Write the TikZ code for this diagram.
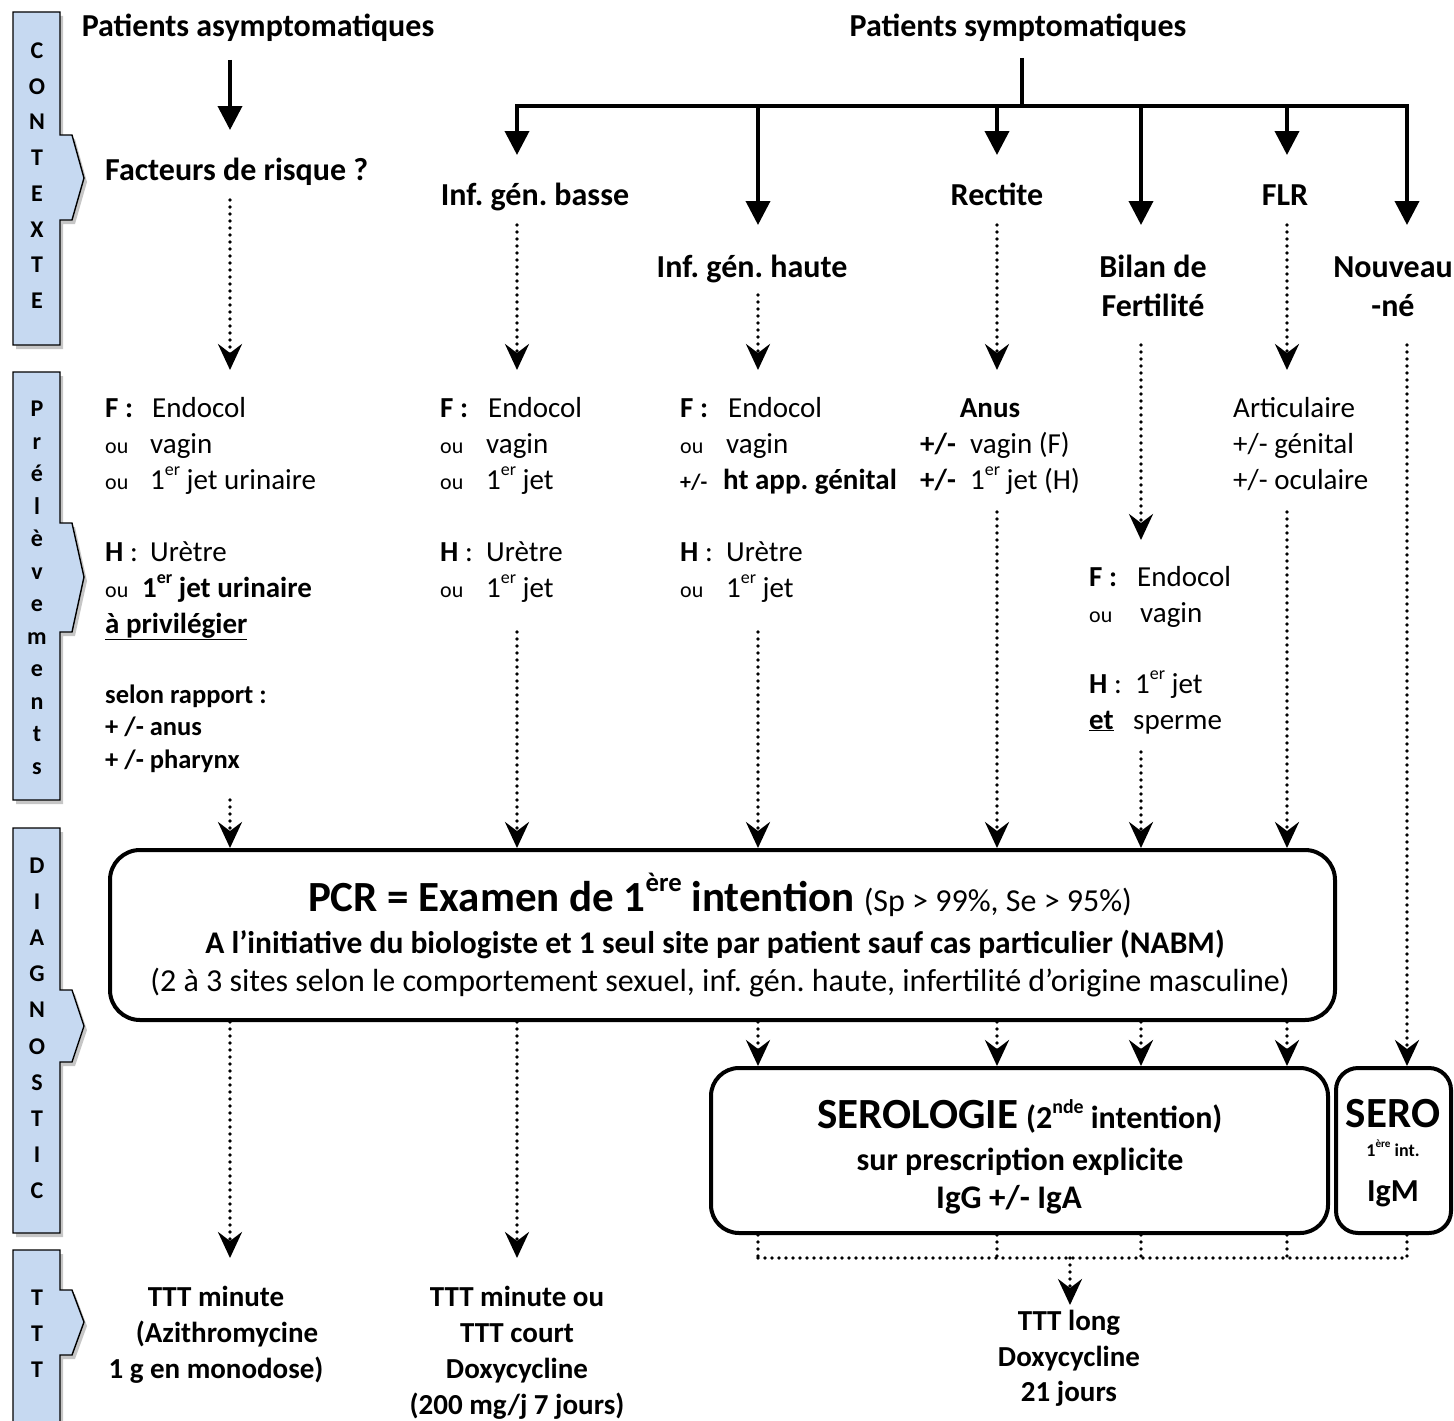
\documentclass[tikz,border=0pt]{standalone}
\usepackage{graphicx}
\usepackage{fontspec}
\setmainfont{Carlito}
\usetikzlibrary{arrows.meta,shadows}
\frenchspacing
\newcommand\fsz[1]{\fontsize{#1pt}{1.2\dimexpr#1pt\relax}\selectfont}
\newcommand\supx[1]{\raisebox{0.45em}{\scalebox{0.62}{#1}}}
\definecolor{tabblue}{HTML}{C6D9F1}
\tikzset{
  solidarr/.style={line width=3.8pt, -{Triangle[width=24pt,length=24pt]}},
  solidln/.style={line width=3.8pt},
  dotarr/.style={line width=3.6pt, dash pattern=on 0pt off 7pt, line cap=round, -{Stealth[width=24pt,length=26pt,inset=9pt]}},
  dotln/.style={line width=3.6pt, dash pattern=on 0pt off 7pt, line cap=round},
  tabst/.style={fill=tabblue, draw=black, line width=1.4pt, line join=miter, drop shadow={opacity=0.45, shadow xshift=3pt, shadow yshift=-4pt}},
  tabl/.style={anchor=base, inner sep=0pt, font=\fsz{24}\bfseries},
  L/.style={anchor=base west, inner sep=0pt, font=\fsz{29}},
  C/.style={anchor=base, inner sep=0pt, font=\fsz{29}},
  H/.style={anchor=base, inner sep=0pt, font=\fsz{32}\bfseries},
  T/.style={anchor=base, inner sep=0pt, font=\fsz{29}\bfseries},
  bigbox/.style={draw, line width=4pt, rounded corners=30pt, inner sep=0pt},
}
\begin{document}
\begin{tikzpicture}[x=1pt,y=-1pt]
\useasboundingbox (0,0) rectangle (1454,1421);

% ---------- side tabs ----------
\path[tabst] (13,12) -- (60,12) -- (60,135) -- (72,135) -- (84,178) -- (72,220) -- (60,220) -- (60,345) -- (13,345) -- cycle;
\path[tabst] (13,372) -- (60,372) -- (60,523) -- (72,523) -- (84,577) -- (72,632) -- (60,632) -- (60,800) -- (13,800) -- cycle;
\path[tabst] (13,828) -- (60,828) -- (60,990) -- (72,990) -- (84,1026) -- (72,1062) -- (60,1062) -- (60,1233) -- (13,1233) -- cycle;
\path[tabst] (13,1250) -- (60,1250) -- (60,1290) -- (72,1290) -- (84,1322) -- (72,1355) -- (60,1355) -- (60,1440) -- (13,1440) -- cycle;

\foreach \l [count=\i] in {C,O,N,T,E,X,T,E}
  \node[tabl] (tc\i) at (37,{50+(\i-1)*35.7+8.5}) {\l};
\foreach \l [count=\i] in {P,r,é,l,è,v,e,m,e,n,t,s}
  \node[tabl] (tp\i) at (37,{408+(\i-1)*32.5+8.5}) {\l};
\foreach \l [count=\i] in {D,I,A,G,N,O,S,T,I,C}
  \node[tabl] (td\i) at (37,{865+(\i-1)*36.1+8.5}) {\l};
\foreach \l [count=\i] in {T,T,T}
  \node[tabl] (tt\i) at (37,{1297+(\i-1)*36+8.5}) {\l};

% ---------- headers ----------
\node[H] (asym) at (258,37) {Patients asymptomatiques};
\node[H] (sym) at (1018,37) {Patients symptomatiques};
\node[H,anchor=base west] (fdr) at (105,180) {Facteurs de risque ?};
\node[H] (igb) at (535,205) {Inf. gén. basse};
\node[H] (igh) at (752,277) {Inf. gén. haute};
\node[H] (rect) at (997,205) {Rectite};
\node[H] (bil1) at (1153,277) {Bilan de};
\node[H] (bil2) at (1153,316) {Fertilité};
\node[H] (flr) at (1285,205) {FLR};
\node[H] (nn1) at (1393,277) {Nouveau};
\node[H] (nn2) at (1393,316) {-né};

% ---------- solid arrows ----------
\coordinate (a0s) at (230,60); \coordinate (a0e) at (230,130);
\draw[solidarr] (a0s) -- (a0e);
\coordinate (s0) at (1022,58); \coordinate (s1) at (1022,106);
\coordinate (bL) at (517,106); \coordinate (bR) at (1407,106);
\draw[solidln] (s0) -- (s1);
\draw[solidln,line cap=rect] (bL) -- (bR);
\coordinate (b2) at (758,106); \coordinate (b3) at (997,106);
\coordinate (b4) at (1141,106); \coordinate (b5) at (1287,106);
\coordinate (e1) at (517,155); \coordinate (e2) at (758,225);
\coordinate (e3) at (997,155); \coordinate (e4) at (1141,225);
\coordinate (e5) at (1287,155); \coordinate (e6) at (1407,225);
\draw[solidarr] (bL) -- (e1);
\draw[solidarr] (b2) -- (e2);
\draw[solidarr] (b3) -- (e3);
\draw[solidarr] (b4) -- (e4);
\draw[solidarr] (b5) -- (e5);
\draw[solidarr] (bR) -- (e6);

% ---------- boxes ----------
\node[bigbox, minimum width=1225pt, minimum height=170pt] (pcr) at (722.5,935) {};
\node[bigbox, minimum width=617pt, minimum height=165pt, rounded corners=28pt] (sero) at (1019.5,1150.5) {};
\node[bigbox, minimum width=115pt, minimum height=165pt, rounded corners=22pt] (sero1) at (1393.5,1150.5) {};

% ---------- dotted arrows, row 1 ----------
\coordinate (d1a) at (230,200); \coordinate (d1b) at (230,370);
\coordinate (d2a) at (517,225); \coordinate (d2b) at (517,370);
\coordinate (d3a) at (758,295); \coordinate (d3b) at (758,370);
\coordinate (d4a) at (997,225); \coordinate (d4b) at (997,370);
\coordinate (d5a) at (1141,345); \coordinate (d5b) at (1141,540);
\coordinate (d6a) at (1287,225); \coordinate (d6b) at (1287,370);
\coordinate (d7a) at (1407,345);
\draw[dotarr] (d1a) -- (d1b);
\draw[dotarr] (d2a) -- (d2b);
\draw[dotarr] (d3a) -- (d3b);
\draw[dotarr] (d4a) -- (d4b);
\draw[dotarr] (d5a) -- (d5b);
\draw[dotarr] (d6a) -- (d6b);
\draw[dotarr] (d7a) -- (d7a |- sero1.north);

% ---------- dotted arrows, row 2 ----------
\coordinate (f1) at (230,800);
\coordinate (f2) at (517,632);
\coordinate (f3) at (758,632);
\coordinate (f4) at (997,512);
\coordinate (f5) at (1141,752);
\coordinate (f6) at (1287,512);
\foreach \n in {f1,f2,f3,f4,f5,f6}
  \draw[dotarr] (\n) -- (\n |- pcr.north);

% ---------- dotted arrows, row 3 ----------
\coordinate (g1) at (230,1258);
\coordinate (g2) at (517,1258);
\draw[dotarr] (g1 |- pcr.south) -- (g1);
\draw[dotarr] (g2 |- pcr.south) -- (g2);
\foreach \x [count=\i] in {758,997,1141,1287}{
  \coordinate (h\i) at (\x,1030);
  \draw[dotarr] (h\i |- pcr.south) -- (h\i |- sero.north);
}

% ---------- bottom collector ----------
\foreach \x [count=\i] in {758,997,1141,1287}{
  \coordinate (k\i) at (\x,1258);
  \draw[dotln] (k\i |- sero.south) -- (k\i);
}
\coordinate (k5) at (1407,1258);
\draw[dotln] (k5 |- sero1.south) -- (k5);
\draw[dotln] (k1) -- (k5);
\coordinate (m0) at (1070,1258); \coordinate (m1) at (1070,1305);
\draw[dotarr] (m0) -- (m1);

% ---------- prelevements ----------
% col 1
\node[L] (p1a) at (105,417) {\makebox[47pt][l]{\textbf{F :}}Endocol};
\node[L] (p1b) at (105,453) {\makebox[45pt][l]{\fsz{22}ou}vagin};
\node[L] (p1c) at (105,489) {\makebox[45pt][l]{\fsz{22}ou}1\supx{er} jet urinaire};
\node[L] (p1d) at (105,561) {\makebox[45pt][l]{\textbf{H} :}Urètre};
\node[L] (p1e) at (105,597) {\makebox[37pt][l]{\fsz{22}ou}\textbf{1\supx{er} jet urinaire}};
\node[L] (p1f) at (105,633) {\textbf{\underline{à privilégier}}};
\node[L,font=\fsz{26.5}\bfseries] (p1g) at (105,703) {selon rapport :};
\node[L,font=\fsz{26.5}\bfseries] (p1h) at (105,735) {+ /- anus};
\node[L,font=\fsz{26.5}\bfseries] (p1i) at (105,768) {+ /- pharynx};
% col 2
\node[L] (p2a) at (440,417) {\makebox[48pt][l]{\textbf{F :}}Endocol};
\node[L] (p2b) at (440,453) {\makebox[46pt][l]{\fsz{22}ou}vagin};
\node[L] (p2c) at (440,489) {\makebox[46pt][l]{\fsz{22}ou}1\supx{er} jet};
\node[L] (p2d) at (440,561) {\makebox[46pt][l]{\textbf{H} :}Urètre};
\node[L] (p2e) at (440,597) {\makebox[46pt][l]{\fsz{22}ou}1\supx{er} jet};
% col 3
\node[L] (p3a) at (680,417) {\makebox[48pt][l]{\textbf{F :}}Endocol};
\node[L] (p3b) at (680,453) {\makebox[46pt][l]{\fsz{22}ou}vagin};
\node[L] (p3c) at (680,489) {\makebox[43pt][l]{\fsz{22}\bfseries +/-}\textbf{ht app. génital}};
\node[L] (p3d) at (680,561) {\makebox[46pt][l]{\textbf{H} :}Urètre};
\node[L] (p3e) at (680,597) {\makebox[46pt][l]{\fsz{22}ou}1\supx{er} jet};
% col 4
\node[C,font=\fsz{29}\bfseries] (p4a) at (990,417) {Anus};
\node[L] (p4b) at (920,453) {\makebox[50pt][l]{\textbf{+/-}}vagin (F)};
\node[L] (p4c) at (920,489) {\makebox[50pt][l]{\textbf{+/-}}1\supx{er} jet (H)};
% col 5
\node[L] (p5a) at (1089,586) {\makebox[48pt][l]{\textbf{F :}}Endocol};
\node[L] (p5b) at (1089,622) {\makebox[51pt][l]{\fsz{22}ou}vagin};
\node[L] (p5c) at (1089,693) {\makebox[46pt][l]{\textbf{H} :}1\supx{er} jet};
\node[L] (p5d) at (1089,729) {\makebox[44pt][l]{\textbf{\underline{et}}}sperme};
% col 6
\node[L] (p6a) at (1233,417) {Articulaire};
\node[L] (p6b) at (1233,453) {+/- génital};
\node[L] (p6c) at (1233,489) {+/- oculaire};

% ---------- PCR text ----------
\node[C] (pcr1) at (720,911) {{\fsz{43}\bfseries PCR = Examen de 1\supx{ère} intention}\hspace{9pt}{\fsz{32}(Sp > 99\%, Se > 95\%)}};
\node[C,font=\fsz{31.5}\bfseries] (pcr2) at (715,953) {A l’initiative du biologiste et 1 seul site par patient sauf cas particulier (NABM)};
\node[C,font=\fsz{32}] (pcr3) at (720,991) {(2 à 3 sites selon le comportement sexuel, inf. gén. haute, infertilité d’origine masculine)};

% ---------- serology text ----------
\node[C,font=\bfseries] (se1) at (1020,1128) {{\fsz{43}SEROLOGIE}\hspace{8pt}{\fsz{32}(2\supx{nde} intention)}};
\node[C,font=\fsz{32}\bfseries] (se2) at (1020,1170) {sur prescription explicite};
\node[C,font=\fsz{33}\bfseries] (se3) at (1009,1208) {IgG +/- IgA};
\node[C,font=\fsz{43}\bfseries] (sr1) at (1393,1127) {SERO};
\node[C,font=\fsz{18}\bfseries] (sr2) at (1393,1156) {1\supx{ère} int.};
\node[C,font=\fsz{32}\bfseries] (sr3) at (1393,1201) {IgM};

% ---------- TTT ----------
\node[T] (t1a) at (216,1306) {TTT minute};
\node[T] (t1b) at (227,1342) {(Azithromycine};
\node[T] (t1c) at (216,1378) {1 g en monodose)};
\node[T] (t2a) at (517,1306) {TTT minute ou};
\node[T] (t2b) at (517,1342) {TTT court};
\node[T] (t2c) at (517,1378) {Doxycycline};
\node[T] (t2d) at (517,1414) {(200 mg/j 7 jours)};
\node[T] (t3a) at (1069,1330) {TTT long};
\node[T] (t3b) at (1069,1366) {Doxycycline};
\node[T] (t3c) at (1069,1401) {21 jours};
\end{tikzpicture}
\end{document}
